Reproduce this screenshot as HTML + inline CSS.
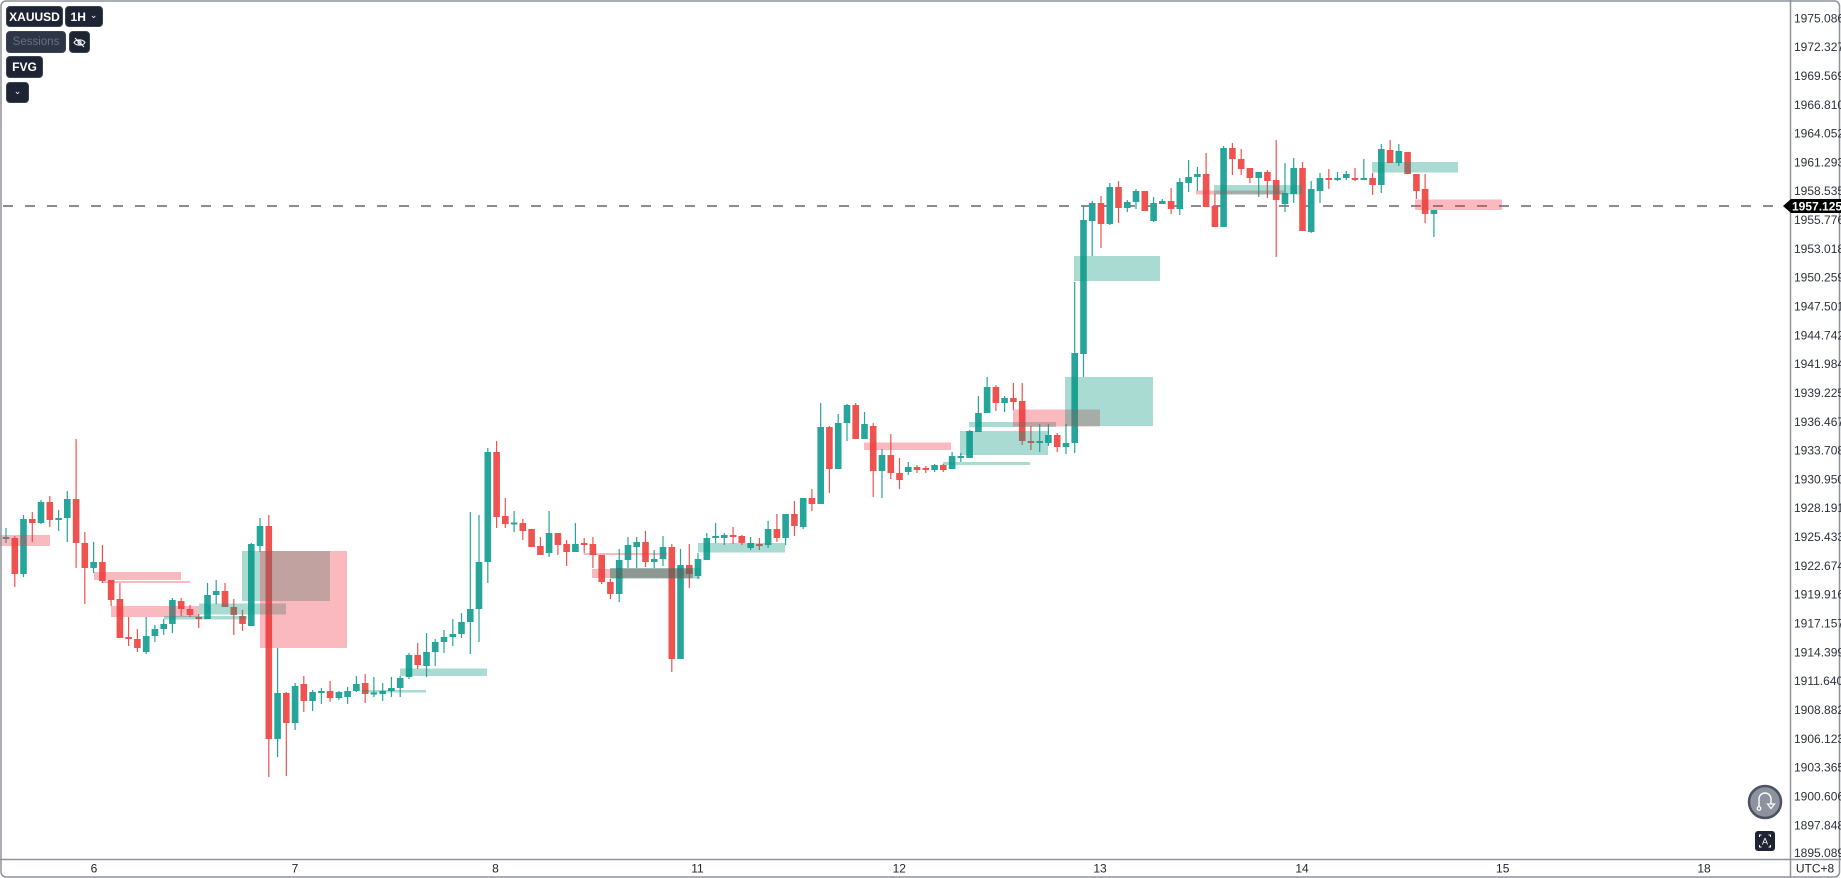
<!DOCTYPE html>
<html><head><meta charset="utf-8"><style>
html,body{margin:0;padding:0;background:#fff;}
body{width:1841px;height:878px;overflow:hidden;position:relative;font-family:"Liberation Sans",Arial,sans-serif;}
.btn{position:absolute;background:#1e2433;border:1px solid #3a4254;border-radius:4px;box-sizing:border-box;color:#fff;font-weight:bold;font-size:12px;display:flex;align-items:center;justify-content:center;}
</style></head><body>
<svg width="1841" height="878" style="position:absolute;left:0;top:0" font-family="Liberation Sans, Arial, sans-serif">
<rect x="0" y="0" width="1841" height="878" fill="#fff"/>
<!-- dashed current price line -->
<line x1="3" y1="206" x2="1783" y2="206" stroke="#8c8c8c" stroke-width="2" stroke-dasharray="10 12"/>
<!-- wicks -->
<path stroke="#26a69a" stroke-width="1.2" fill="none" d="M6 528V543 M23.5 515V577 M41 500V524 M58.6 510V531 M67.3 491V542 M93.6 542V573 M146.2 617V654 M154.9 625V642 M163.7 619V635 M172.4 598V633 M207.5 583V619 M216.2 580V604 M251.3 543V626 M260 518V552 M277.6 648V757 M295.1 683V730 M312.6 690V711 M321.4 688V704 M338.9 691V700 M347.6 687V704 M356.4 676V692 M373.9 677V697 M382.7 683V701 M391.4 677V697 M400.2 676V697 M409 653V679 M426.5 633V677 M435.2 639V666 M444 630V653 M452.8 619V646 M461.5 613V638 M470.3 512V654 M479 515V642 M487.8 448V583 M514.1 511V532 M549.1 511V557 M575.4 523V552 M619.2 549V602 M628 537V568 M636.7 537V568 M654.2 550V568 M663 536V566 M680.5 549V659 M698 553V579 M706.8 533V560 M715.6 523V543 M724.3 533V545 M750.6 537V550 M768.1 521V548 M785.6 514V545 M803.2 498V529 M820.7 403V504 M838.2 414V469 M847 404V441 M864.5 412V439 M882 449V498 M908.3 462V475 M934.6 464V472 M952.1 452V469 M960.8 453V462 M969.6 430V458 M978.4 396V432 M987.1 377V413 M1004.6 396V412 M1039.7 424V452 M1048.4 424V446 M1066 424V454 M1074.7 282V453 M1083.5 205V377 M1092.2 201V256 M1109.8 183V225 M1127.3 200V212 M1136 189V209 M1153.6 197V222 M1162.3 199V204 M1179.8 178V215 M1188.6 160V192 M1197.4 167V191 M1223.6 146V227 M1258.7 172V197 M1285 163V212 M1293.7 158V203 M1311.2 181V233 M1320 173V203 M1337.5 172V181 M1346.3 171V180 M1363.8 159V180 M1381.3 144V193 M1398.8 144V166 M1433.9 210V237"/>
<path stroke="#ef5350" stroke-width="1.2" fill="none" d="M14.8 536V587 M32.3 512V542 M49.8 496V527 M76.1 439V568 M84.8 532V604 M102.4 545V583 M111.1 580V606 M119.9 583V638 M128.6 617V646 M137.4 629V652 M181.2 598V616 M190 605V617 M198.7 614V628 M225 583V607 M233.8 599V635 M242.5 610V631 M268.8 515V777 M286.3 692V776 M303.8 676V712 M330.1 681V702 M365.2 674V703 M417.7 643V669 M496.6 441V528 M505.3 498V528 M522.8 519V540 M531.6 529V547 M540.4 537V555 M557.9 533V555 M566.6 540V566 M584.2 538V553 M592.9 537V568 M601.7 555V584 M610.4 579V599 M645.5 531V567 M671.8 544V672 M689.3 544V588 M733.1 527V544 M741.8 535V545 M759.4 538V550 M776.9 514V542 M794.4 501V536 M811.9 489V511 M829.4 426V493 M855.7 403V439 M873.2 423V497 M890.8 434V479 M899.5 458V489 M917 465V473 M925.8 466V473 M943.3 464V472 M995.9 385V411 M1013.4 383V410 M1022.2 383V445 M1030.9 426V450 M1057.2 433V452 M1101 196V248 M1118.5 181V223 M1144.8 191V211 M1171.1 188V214 M1206.1 153V207 M1214.9 194V227 M1232.4 143V175 M1241.2 149V175 M1249.9 168V183 M1267.4 170V198 M1276.2 140V257 M1302.5 162V231 M1328.8 169V189 M1355 168V181 M1372.6 173V195 M1390.1 140V163 M1407.6 152V174 M1416.4 174V199 M1425.1 174V223"/>
<!-- bodies -->
<path fill="#26a69a" d="M2.7 537h6.6V539h-6.6z M20.2 519h6.6V574h-6.6z M37.7 502h6.6V523h-6.6z M55.3 518h6.6V520h-6.6z M64 499h6.6V518h-6.6z M90.3 562h6.6V568h-6.6z M142.9 636h6.6V652h-6.6z M151.6 629h6.6V636h-6.6z M160.4 624h6.6V629h-6.6z M169.1 600h6.6V624h-6.6z M204.2 595h6.6V619h-6.6z M212.9 591h6.6V595h-6.6z M248 544h6.6V626h-6.6z M256.7 526h6.6V546h-6.6z M274.3 693h6.6V739h-6.6z M291.8 686h6.6V723h-6.6z M309.3 692h6.6V701h-6.6z M318.1 691h6.6V693h-6.6z M335.6 692h6.6V698h-6.6z M344.3 691h6.6V697h-6.6z M353.1 684h6.6V691h-6.6z M370.6 692.5h6.6V694.5h-6.6z M379.4 691h6.6V694h-6.6z M388.1 688h6.6V691h-6.6z M396.9 678h6.6V688h-6.6z M405.7 655h6.6V677h-6.6z M423.2 652h6.6V666h-6.6z M431.9 642h6.6V652h-6.6z M440.7 637h6.6V642h-6.6z M449.5 634h6.6V637h-6.6z M458.2 622h6.6V634h-6.6z M467 609h6.6V622h-6.6z M475.7 562h6.6V609h-6.6z M484.5 452h6.6V562h-6.6z M510.8 522.5h6.6V524.5h-6.6z M545.8 533h6.6V553h-6.6z M572.1 544h6.6V552h-6.6z M615.9 560h6.6V594h-6.6z M624.7 545h6.6V560h-6.6z M633.4 542h6.6V547h-6.6z M650.9 559h6.6V562h-6.6z M659.7 547h6.6V559h-6.6z M677.2 565h6.6V659h-6.6z M694.7 559h6.6V576h-6.6z M703.5 538h6.6V560h-6.6z M712.3 536h6.6V538h-6.6z M721 535h6.6V538h-6.6z M747.3 543h6.6V548h-6.6z M764.8 529h6.6V545h-6.6z M782.3 514h6.6V538h-6.6z M799.9 498h6.6V527h-6.6z M817.4 427h6.6V504h-6.6z M834.9 423h6.6V469h-6.6z M843.7 405h6.6V423h-6.6z M861.2 424h6.6V439h-6.6z M878.7 455h6.6V471h-6.6z M905 467h6.6V472h-6.6z M931.3 465h6.6V470h-6.6z M948.8 456h6.6V469h-6.6z M957.5 456h6.6V458h-6.6z M966.3 431h6.6V458h-6.6z M975.1 413h6.6V432h-6.6z M983.8 387h6.6V413h-6.6z M1001.3 398h6.6V403h-6.6z M1036.4 441h6.6V443h-6.6z M1045.1 435h6.6V443h-6.6z M1062.7 443h6.6V447h-6.6z M1071.4 353h6.6V443h-6.6z M1080.2 220h6.6V354h-6.6z M1088.9 203h6.6V221h-6.6z M1106.5 187h6.6V224h-6.6z M1124 202h6.6V208h-6.6z M1132.7 191h6.6V202h-6.6z M1150.3 203h6.6V221h-6.6z M1159 201h6.6V204h-6.6z M1176.5 182h6.6V209h-6.6z M1185.3 177h6.6V183h-6.6z M1194.1 174h6.6V177h-6.6z M1220.3 148h6.6V227h-6.6z M1255.4 172h6.6V178h-6.6z M1281.7 193h6.6V204h-6.6z M1290.4 168h6.6V194h-6.6z M1307.9 189h6.6V232h-6.6z M1316.7 178h6.6V191h-6.6z M1334.2 178h6.6V180h-6.6z M1343 174h6.6V178h-6.6z M1360.5 178h6.6V180h-6.6z M1378 149h6.6V185h-6.6z M1395.5 151h6.6V163h-6.6z M1430.6 210h6.6V214h-6.6z"/>
<path fill="#ef5350" d="M11.5 538h6.6V574h-6.6z M29 519h6.6V523h-6.6z M46.5 502h6.6V520h-6.6z M72.8 499h6.6V543h-6.6z M81.5 543h6.6V568h-6.6z M99.1 562h6.6V581h-6.6z M107.8 580h6.6V600h-6.6z M116.6 599h6.6V638h-6.6z M125.3 637h6.6V639h-6.6z M134.1 639h6.6V648h-6.6z M177.9 601h6.6V609h-6.6z M186.7 609h6.6V615h-6.6z M195.4 617h6.6V619h-6.6z M221.7 591h6.6V607h-6.6z M230.5 607h6.6V615h-6.6z M239.2 616h6.6V624h-6.6z M265.5 526h6.6V739h-6.6z M283 693h6.6V723h-6.6z M300.5 684h6.6V701h-6.6z M326.8 691h6.6V698h-6.6z M361.9 683h6.6V694h-6.6z M414.4 655h6.6V665h-6.6z M493.3 452h6.6V517h-6.6z M502 516h6.6V524h-6.6z M519.5 523h6.6V531h-6.6z M528.3 529h6.6V547h-6.6z M537.1 546h6.6V555h-6.6z M554.6 533h6.6V545h-6.6z M563.3 544h6.6V552h-6.6z M580.9 543h6.6V545h-6.6z M589.6 544h6.6V555h-6.6z M598.4 555h6.6V582h-6.6z M607.1 582h6.6V594h-6.6z M642.2 542h6.6V562h-6.6z M668.5 547h6.6V659h-6.6z M686 565h6.6V574h-6.6z M729.8 535h6.6V537h-6.6z M738.5 536h6.6V543h-6.6z M756.1 544h6.6V546h-6.6z M773.6 529h6.6V538h-6.6z M791.1 514h6.6V526h-6.6z M808.6 498h6.6V504h-6.6z M826.1 427h6.6V469h-6.6z M852.4 405h6.6V439h-6.6z M869.9 426h6.6V471h-6.6z M887.5 455h6.6V473h-6.6z M896.2 473h6.6V480h-6.6z M913.7 467h6.6V470h-6.6z M922.5 468h6.6V470h-6.6z M940 465h6.6V470h-6.6z M992.6 387h6.6V403h-6.6z M1010.1 398h6.6V402h-6.6z M1018.9 401h6.6V441h-6.6z M1027.6 441h6.6V443h-6.6z M1053.9 435h6.6V447h-6.6z M1097.7 203h6.6V224h-6.6z M1115.2 187h6.6V208h-6.6z M1141.5 191h6.6V211h-6.6z M1167.8 201h6.6V209h-6.6z M1202.8 174h6.6V207h-6.6z M1211.6 206h6.6V227h-6.6z M1229.1 148h6.6V159h-6.6z M1237.9 159h6.6V169h-6.6z M1246.6 168h6.6V178h-6.6z M1264.1 172h6.6V181h-6.6z M1272.9 180h6.6V200h-6.6z M1299.2 168h6.6V231h-6.6z M1325.5 178h6.6V180h-6.6z M1351.7 178h6.6V180h-6.6z M1369.3 178h6.6V185h-6.6z M1386.8 150h6.6V163h-6.6z M1404.3 152h6.6V174h-6.6z M1413.1 174h6.6V191h-6.6z M1421.8 189h6.6V214h-6.6z"/>
<!-- FVG boxes -->
<g>
<rect x="0" y="535" width="50" height="11" fill="rgba(242,54,69,0.35)"/>
<rect x="94" y="572" width="87" height="8" fill="rgba(242,54,69,0.35)"/>
<rect x="102" y="581" width="88" height="2" fill="rgba(242,54,69,0.35)"/>
<rect x="111" y="606" width="88" height="11" fill="rgba(242,54,69,0.35)"/>
<rect x="164" y="616" width="83" height="3.5" fill="rgba(8,153,129,0.35)"/>
<rect x="199" y="603.5" width="87" height="11" fill="rgba(8,153,129,0.35)"/>
<rect x="242" y="551" width="88" height="50" fill="rgba(8,153,129,0.35)"/>
<rect x="260" y="551" width="87" height="97" fill="rgba(242,54,69,0.35)"/>
<rect x="362" y="690" width="64" height="2.5" fill="rgba(8,153,129,0.35)"/>
<rect x="400" y="668.5" width="87" height="7.5" fill="rgba(8,153,129,0.35)"/>
<rect x="584" y="553" width="83" height="2" fill="rgba(242,54,69,0.35)"/>
<rect x="592" y="569" width="101" height="9" fill="rgba(242,54,69,0.35)"/>
<rect x="610" y="568" width="90" height="10.5" fill="rgba(8,153,129,0.35)"/>
<rect x="610" y="568" width="83" height="10.5" fill="rgba(60,70,66,0.2)"/>
<rect x="698" y="543" width="87" height="9.5" fill="rgba(8,153,129,0.35)"/>
<rect x="864" y="442.5" width="87" height="7.5" fill="rgba(242,54,69,0.35)"/>
<rect x="943" y="462" width="87" height="3" fill="rgba(8,153,129,0.35)"/>
<rect x="960" y="431" width="88" height="24" fill="rgba(8,153,129,0.35)"/>
<rect x="969" y="422" width="87" height="5" fill="rgba(8,153,129,0.35)"/>
<rect x="1013" y="409.5" width="87" height="17" fill="rgba(242,54,69,0.35)"/>
<rect x="1065" y="377" width="88" height="49" fill="rgba(8,153,129,0.35)"/>
<rect x="1074" y="256" width="86" height="25" fill="rgba(8,153,129,0.35)"/>
<rect x="1196" y="190.5" width="88" height="4" fill="rgba(242,54,69,0.35)"/>
<rect x="1214" y="185" width="88" height="9.5" fill="rgba(8,153,129,0.35)"/>
<rect x="1372" y="162" width="86" height="10.5" fill="rgba(8,153,129,0.35)"/>
<rect x="1415" y="199.5" width="87" height="10.5" fill="rgba(242,54,69,0.35)"/>
</g>
<!-- axes -->
<rect x="0" y="0" width="1841" height="878" fill="none"/>
<rect x="1791" y="0" width="50" height="859" fill="#fff"/>
<line x1="1790.5" y1="0" x2="1790.5" y2="878" stroke="#8d929b" stroke-width="1.5"/>
<line x1="0" y1="859.5" x2="1841" y2="859.5" stroke="#8d929b" stroke-width="1.5"/>
<rect x="1" y="1" width="1838.5" height="876" rx="5" fill="none" stroke="#8d929b" stroke-width="1.5"/>
<g font-size="12" fill="#2e323c">
<text x="1794" y="22.3">1975.086</text>
<text x="1794" y="51.1">1972.327</text>
<text x="1794" y="79.9">1969.569</text>
<text x="1794" y="108.8">1966.810</text>
<text x="1794" y="137.6">1964.052</text>
<text x="1794" y="166.4">1961.293</text>
<text x="1794" y="195.2">1958.535</text>
<text x="1794" y="224">1955.776</text>
<text x="1794" y="252.9">1953.018</text>
<text x="1794" y="281.7">1950.259</text>
<text x="1794" y="310.5">1947.501</text>
<text x="1794" y="339.3">1944.742</text>
<text x="1794" y="368.1">1941.984</text>
<text x="1794" y="397">1939.225</text>
<text x="1794" y="425.8">1936.467</text>
<text x="1794" y="454.6">1933.708</text>
<text x="1794" y="483.4">1930.950</text>
<text x="1794" y="512.2">1928.191</text>
<text x="1794" y="541.1">1925.433</text>
<text x="1794" y="569.9">1922.674</text>
<text x="1794" y="598.7">1919.916</text>
<text x="1794" y="627.5">1917.157</text>
<text x="1794" y="656.3">1914.399</text>
<text x="1794" y="685.2">1911.640</text>
<text x="1794" y="714">1908.882</text>
<text x="1794" y="742.8">1906.123</text>
<text x="1794" y="771.6">1903.365</text>
<text x="1794" y="800.4">1900.606</text>
<text x="1794" y="829.3">1897.848</text>
<text x="1794" y="857">1895.089</text>
</g>
<!-- current price tag -->
<path d="M1783 206 L1791 199 H1841 V213 H1791 Z" fill="#000"/>
<text x="1792" y="210.5" font-size="12" font-weight="bold" fill="#fff">1957.125</text>
<!-- date labels -->
<g font-size="12" fill="#1f222a" text-anchor="middle">
<text x="94" y="872.5">6</text>
<text x="295" y="872.5">7</text>
<text x="495.5" y="872.5">8</text>
<text x="697.5" y="872.5">11</text>
<text x="899.3" y="872.5">12</text>
<text x="1100" y="872.5">13</text>
<text x="1302" y="872.5">14</text>
<text x="1502.7" y="872.5">15</text>
<text x="1704" y="872.5">18</text>
<text x="1815" y="872.5">UTC+8</text>
</g>
<!-- bottom right controls -->
<circle cx="1765" cy="802" r="16" fill="#8c939f" stroke="#4b5363" stroke-width="2.5"/>
<path d="M1759 807 V799 A6 6 0 0 1 1771 799 V804" fill="none" stroke="#fff" stroke-width="1.4"/>
<circle cx="1759" cy="808.5" r="1.8" fill="none" stroke="#fff" stroke-width="1.2"/>
<path d="M1767.5 804 H1774.5 L1771 808.5 Z" fill="none" stroke="#fff" stroke-width="1.2"/>
<rect x="1755" y="831" width="20" height="20" rx="3" fill="#1e2433"/>
<path d="M1759.5 837 V835 H1761.5 M1768.5 835 H1770.5 V837 M1770.5 845 V847 H1768.5 M1761.5 847 H1759.5 V845" fill="none" stroke="#fff" stroke-width="1"/>
<text x="1765" y="844.5" font-size="9" fill="#fff" text-anchor="middle">A</text>
</svg>
<!-- top-left controls -->
<div class="btn" style="left:6px;top:6px;width:57px;height:21px;">XAUUSD</div>
<div class="btn" style="left:65px;top:6px;width:38px;height:21px;">1H<span style="font-size:9px;font-weight:normal;margin-left:4px;margin-top:-2px;">&#8964;</span></div>
<div class="btn" style="left:6px;top:31px;width:60px;height:22px;background:#2e3546;color:#687184;font-weight:normal;font-size:11.5px;">Sessions</div>
<div class="btn" style="left:69px;top:31px;width:21px;height:22px;">
<svg width="13" height="11" viewBox="0 0 13 11"><path d="M1 5.5 C3 2 10 2 12 5.5 C10 9 3 9 1 5.5 Z" fill="none" stroke="#fff" stroke-width="1"/><circle cx="6.5" cy="5.5" r="1.6" fill="none" stroke="#fff" stroke-width="1"/><line x1="2" y1="1" x2="11" y2="10" stroke="#fff" stroke-width="1"/></svg>
</div>
<div class="btn" style="left:6px;top:56px;width:37px;height:22px;">FVG</div>
<div class="btn" style="left:6px;top:82px;width:23px;height:21px;"><span style="font-size:9px;font-weight:normal;margin-top:-3px;">&#8964;</span></div>
</body></html>
